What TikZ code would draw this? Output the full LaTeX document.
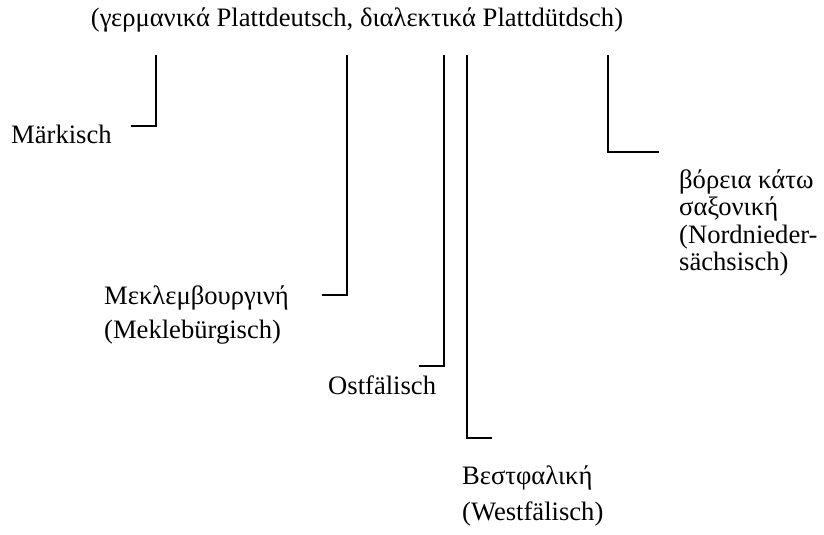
\documentclass[tikz,border=0pt]{standalone}
\usepackage{fontspec}
\setmainfont{Liberation Serif}
\usetikzlibrary{positioning}

\tikzset{
  dialect/.style={font=\fontsize{26.6}{27.5}\selectfont, inner sep=0pt, align=left},
  bracket/.style={line width=1.6pt}
}

\begin{document}
\begin{tikzpicture}[x=1pt, y=-1pt]
  \useasboundingbox (0,0) rectangle (824,535);
  % top heading
  \node[dialect] (lowgerman) at (357,20) {(γερμανικά Plattdeutsch, διαλεκτικά Plattdütdsch)};
  % dialect labels
  \node[dialect, anchor=west] (maerk) at (11,134) {Märkisch};
  \node[dialect, anchor=west] (meckl) at (104,315) {Μεκλεμβουργινή\\[6pt](Meklebürgisch)};
  \node[dialect, anchor=west] (ostf) at (328,385) {Ostfälisch};
  \node[dialect, anchor=west] (westf) at (462,496) {Βεστφαλική\\[8pt](Westfälisch)};
  \node[dialect, anchor=west] (nordn) at (679,223) {βόρεια κάτω\\σαξονική\\(Nordnieder-\\sächsisch)};
  % bracket ends
  \coordinate (maerk top) at (156,55);  \coordinate (maerk end) at (131,126);
  \coordinate (meckl top) at (347,55);  \coordinate (meckl end) at (322,295);
  \coordinate (ostf top) at (444,55);   \coordinate (ostf end) at (419,366);
  \coordinate (westf top) at (467,55);  \coordinate (westf end) at (492,438);
  \coordinate (nordn top) at (608,55);  \coordinate (nordn end) at (659,152);
  \foreach \d in {maerk, meckl, ostf, westf, nordn}
    \draw[bracket] (\d\space top) |- (\d\space end);
\end{tikzpicture}
\end{document}
